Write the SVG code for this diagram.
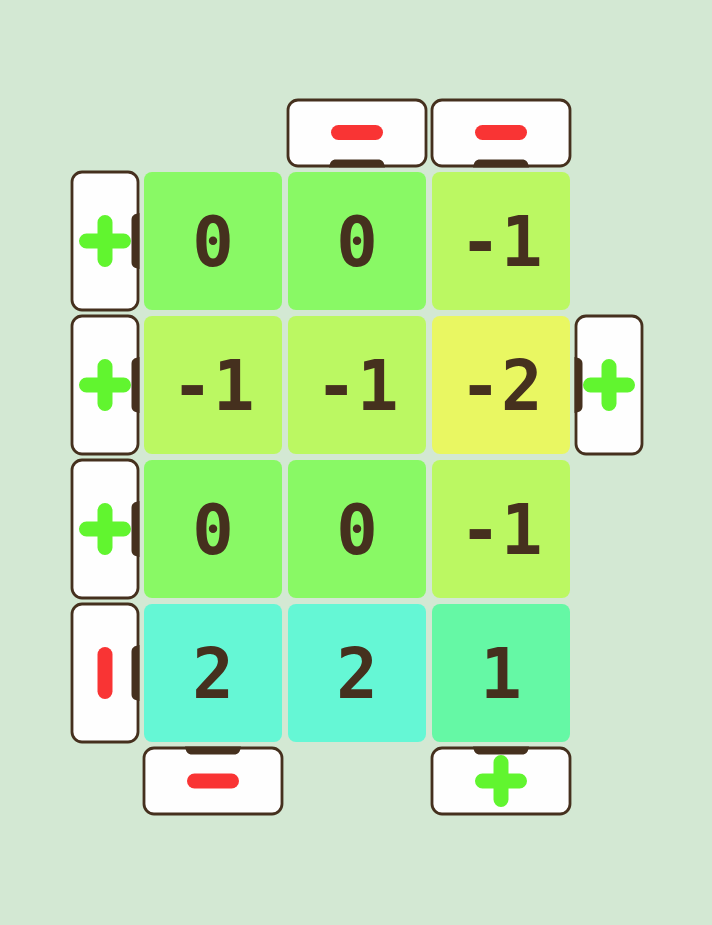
<svg xmlns="http://www.w3.org/2000/svg" width="712" height="925" viewBox="0 0 712 925">
<style>
.bg{fill:#d3e8d3}
.cell{stroke:none}
.c0{fill:#89f965}
.cm1{fill:#bbf862}
.cm2{fill:#e9f762}
.c2{fill:#65f7d5}
.c1{fill:#65f8a5}
.num{font-family:"DejaVu Sans Mono","Liberation Mono",monospace;font-weight:bold;font-size:69px;fill:#45301e;text-anchor:middle}
.btn{fill:#fefefe;stroke:#45301e;stroke-width:2.8}
.tab{fill:#45301e}
.plus{fill:none;stroke:#61f52f;stroke-width:15;stroke-linecap:round}
.minus{fill:none;stroke:#f93434;stroke-width:15;stroke-linecap:round}
</style>
<defs>
<path id="tab" d="M-28,1.5 C-27,-4.5 -25,-6.5 -21,-6.5 H21 C25,-6.5 27,-4.5 28,1.5 Z"/>
<path id="plusG" d="M-18.5,0 H18.5 M0,-18.5 V18.5"/>
<path id="minusH" d="M-18.5,0 H18.5"/>
<path id="minusV" d="M0,-18.5 V18.5"/>
</defs>
<rect class="bg" x="0" y="0" width="712" height="925"/>

<g id="cells">
<g id="cell-r1c1"><rect class="cell c0" x="144" y="172" width="138" height="138" rx="8"/><text class="num" x="213" y="265.5">0</text></g>
<g id="cell-r1c2"><rect class="cell c0" x="288" y="172" width="138" height="138" rx="8"/><text class="num" x="357" y="265.5">0</text></g>
<g id="cell-r1c3"><rect class="cell cm1" x="432" y="172" width="138" height="138" rx="8"/><text class="num" x="501" y="265.5">-1</text></g>
<g id="cell-r2c1"><rect class="cell cm1" x="144" y="316" width="138" height="138" rx="8"/><text class="num" x="213" y="409.5">-1</text></g>
<g id="cell-r2c2"><rect class="cell cm1" x="288" y="316" width="138" height="138" rx="8"/><text class="num" x="357" y="409.5">-1</text></g>
<g id="cell-r2c3"><rect class="cell cm2" x="432" y="316" width="138" height="138" rx="8"/><text class="num" x="501" y="409.5">-2</text></g>
<g id="cell-r3c1"><rect class="cell c0" x="144" y="460" width="138" height="138" rx="8"/><text class="num" x="213" y="553.5">0</text></g>
<g id="cell-r3c2"><rect class="cell c0" x="288" y="460" width="138" height="138" rx="8"/><text class="num" x="357" y="553.5">0</text></g>
<g id="cell-r3c3"><rect class="cell cm1" x="432" y="460" width="138" height="138" rx="8"/><text class="num" x="501" y="553.5">-1</text></g>
<g id="cell-r4c1"><rect class="cell c2" x="144" y="604" width="138" height="138" rx="8"/><text class="num" x="213" y="697.5">2</text></g>
<g id="cell-r4c2"><rect class="cell c2" x="288" y="604" width="138" height="138" rx="8"/><text class="num" x="357" y="697.5">2</text></g>
<g id="cell-r4c3"><rect class="cell c1" x="432" y="604" width="138" height="138" rx="8"/><text class="num" x="501" y="697.5">1</text></g>
</g>

<g id="buttons">
<g id="btn-top-c2"><rect class="btn" x="288" y="100" width="138" height="66" rx="10"/><use href="#tab" class="tab" transform="translate(357,166)"/><use href="#minusH" class="minus" transform="translate(357,132.5)"/></g>
<g id="btn-top-c3"><rect class="btn" x="432" y="100" width="138" height="66" rx="10"/><use href="#tab" class="tab" transform="translate(501,166)"/><use href="#minusH" class="minus" transform="translate(501,132.5)"/></g>

<g id="btn-left-r1"><rect class="btn" x="72" y="172" width="66" height="138" rx="10"/><use href="#tab" class="tab" transform="translate(138,241) rotate(-90)"/><use href="#plusG" class="plus" transform="translate(105,241)"/></g>
<g id="btn-left-r2"><rect class="btn" x="72" y="316" width="66" height="138" rx="10"/><use href="#tab" class="tab" transform="translate(138,385) rotate(-90)"/><use href="#plusG" class="plus" transform="translate(105,385)"/></g>
<g id="btn-left-r3"><rect class="btn" x="72" y="460" width="66" height="138" rx="10"/><use href="#tab" class="tab" transform="translate(138,529) rotate(-90)"/><use href="#plusG" class="plus" transform="translate(105,529)"/></g>
<g id="btn-left-r4"><rect class="btn" x="72" y="604" width="66" height="138" rx="10"/><use href="#tab" class="tab" transform="translate(138,673) rotate(-90)"/><use href="#minusV" class="minus" transform="translate(105,673)"/></g>

<g id="btn-right-r2"><rect class="btn" x="576" y="316" width="66" height="138" rx="10"/><use href="#tab" class="tab" transform="translate(576,385) rotate(90)"/><use href="#plusG" class="plus" transform="translate(609,385)"/></g>

<g id="btn-bottom-c1"><rect class="btn" x="144" y="748" width="138" height="66" rx="10"/><use href="#tab" class="tab" transform="translate(213,748) rotate(180)"/><use href="#minusH" class="minus" transform="translate(213,781)"/></g>
<g id="btn-bottom-c3"><rect class="btn" x="432" y="748" width="138" height="66" rx="10"/><use href="#tab" class="tab" transform="translate(501,748) rotate(180)"/><use href="#plusG" class="plus" transform="translate(501,781)"/></g>
</g>
</svg>
